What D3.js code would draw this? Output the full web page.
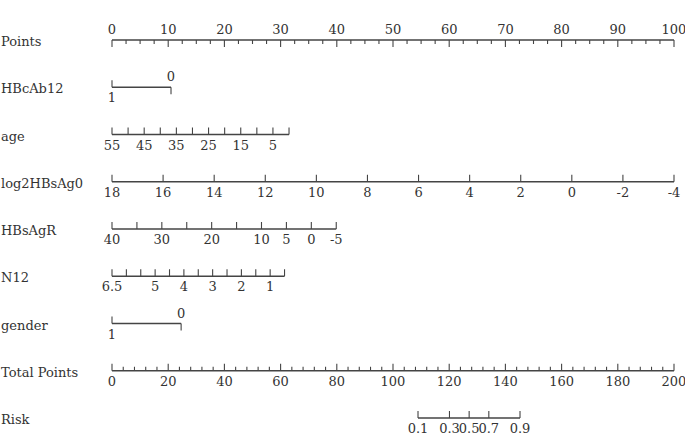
<!DOCTYPE html>
<html>
<head>
<meta charset="utf-8">
<script src="https://cdn.jsdelivr.net/npm/d3@7"></script>
<style>
  body { margin: 0; background: #fff; }
  text { font-family: "DejaVu Serif", "Liberation Serif", serif; font-size: 13px; fill: #333; }
</style>
</head>
<body>
<div id="plot"></div>
<script>
// rows of the nomogram, top to bottom
var rows = ["Points", "HBcAb12", "age", "log2HBsAg0", "HBsAgR", "N12", "gender", "Total Points", "Risk"];

// points scale 0..100, minor ticks every 2.5
var pointTicks = d3.range(0, 100.01, 2.5);
var pointLabels = [0, 10, 20, 30, 40, 50, 60, 70, 80, 90, 100];

// total points 0..200, minor ticks every 4
var totalTicks = d3.range(0, 200.01, 4);
var totalLabels = [0, 20, 40, 60, 80, 100, 120, 140, 160, 180, 200];

// predictors: tick values, which labels are printed, value range and points range
var hbcTicks = [1, 0];
var hbcValues = [1, 0], hbcPoints = [0, 10.5];

var ageTicks = [55, 50, 45, 40, 35, 30, 25, 20, 15, 10, 5, 0];
var ageLabels = [55, 45, 35, 25, 15, 5];
var ageValues = [55, 0], agePoints = [0, 31.5];

var hbsTicks = [18, 16, 14, 12, 10, 8, 6, 4, 2, 0, -2, -4];
var hbsValues = [18, -4], hbsPoints = [0, 100];

var hbsrTicks = [40, 35, 30, 25, 20, 15, 10, 5, 0, -5];
var hbsrLabels = [40, 30, 20, 10, 5, 0, -5];
var hbsrValues = [40, -5], hbsrPoints = [0, 39.9];

var n12Ticks = [6.5, 6, 5.5, 5, 4.5, 4, 3.5, 3, 2.5, 2, 1.5, 1, 0.5];
var n12Labels = [6.5, 5, 4, 3, 2, 1];
var n12Values = [6.5, 0.5], n12Points = [0, 30.7];

var genderTicks = [1, 0];
var genderValues = [1, 0], genderPoints = [0, 12.3];

// risk ticks and where they sit on the total points axis
var riskTicks = [0.1, 0.3, 0.5, 0.7, 0.9];
var riskTotal = [108.9, 120.1, 127.1, 134.1, 145.2];

var W = 685, H = 435;
var svg = d3.select("#plot").append("svg")
    .attr("width", W).attr("height", H);

var xpts = d3.scaleLinear().domain([0, 100]).range([112, 674]);
var xtot = d3.scaleLinear().domain([0, 200]).range([112, 674]);
var y = d3.scalePoint().domain(rows).range([40, 418]);

var ink = "#444";

// row titles
svg.selectAll(".rowlab")
    .data(rows)
    .join("text")
    .attr("class", "rowlab")
    .attr("x", 1)
    .attr("y", function(d) { return y(d) + 6; })
    .text(function(d) { return d; });

function hline(g, x0, x1) {
    g.append("line")
        .attr("x1", x0).attr("x2", x1)
        .attr("stroke", ink).attr("stroke-width", 1.3);
}

// Points axis: ticks down, labels above
var gp = svg.append("g").attr("transform", `translate(0,${y("Points")})`);
hline(gp, xpts(0), xpts(100));
gp.selectAll(".tk").data(pointTicks).join("line")
    .attr("x1", function(d) { return xpts(d); })
    .attr("x2", function(d) { return xpts(d); })
    .attr("y1", 0)
    .attr("y2", function(d) { return d % 10 == 0 ? 7 : 4; })
    .attr("stroke", ink).attr("stroke-width", 1.1);
gp.selectAll(".lb").data(pointLabels).join("text")
    .attr("x", function(d) { return xpts(d); })
    .attr("y", -6)
    .attr("text-anchor", "middle")
    .text(function(d) { return d; });

// continuous predictors: ticks up, labels below
function predictor(name, ticks, labels, values, points) {
    var s = d3.scaleLinear().domain(values).range(points);
    var g = svg.append("g").attr("transform", `translate(0,${y(name)})`);
    hline(g, xpts(s(values[0])), xpts(s(values[1])));
    g.selectAll(".tk").data(ticks).join("line")
        .attr("x1", function(d) { return xpts(s(d)); })
        .attr("x2", function(d) { return xpts(s(d)); })
        .attr("y1", 0).attr("y2", -7)
        .attr("stroke", ink).attr("stroke-width", 1.1);
    g.selectAll(".lb").data(labels).join("text")
        .attr("x", function(d) { return xpts(s(d)); })
        .attr("y", 15)
        .attr("text-anchor", "middle")
        .text(function(d) { return d; });
}

// binary predictors: first level below (tick up), second above (tick down)
function binary(name, ticks, values, points) {
    var s = d3.scaleLinear().domain(values).range(points);
    var g = svg.append("g").attr("transform", `translate(0,${y(name)})`);
    hline(g, xpts(s(values[0])), xpts(s(values[1])));
    g.selectAll(".tk").data(ticks).join("line")
        .attr("x1", function(d) { return xpts(s(d)); })
        .attr("x2", function(d) { return xpts(s(d)); })
        .attr("y1", 0)
        .attr("y2", function(d, i) { return i == 0 ? -7 : 7; })
        .attr("stroke", ink).attr("stroke-width", 1.1);
    g.selectAll(".lb").data(ticks).join("text")
        .attr("x", function(d) { return xpts(s(d)); })
        .attr("y", function(d, i) { return i == 0 ? 15 : -6; })
        .attr("text-anchor", "middle")
        .text(function(d) { return d; });
}

binary("HBcAb12", hbcTicks, hbcValues, hbcPoints);
predictor("age", ageTicks, ageLabels, ageValues, agePoints);
predictor("log2HBsAg0", hbsTicks, hbsTicks, hbsValues, hbsPoints);
predictor("HBsAgR", hbsrTicks, hbsrLabels, hbsrValues, hbsrPoints);
predictor("N12", n12Ticks, n12Labels, n12Values, n12Points);
binary("gender", genderTicks, genderValues, genderPoints);

// Total Points axis: ticks up, labels below
var gt = svg.append("g").attr("transform", `translate(0,${y("Total Points")})`);
hline(gt, xtot(0), xtot(200));
gt.selectAll(".tk").data(totalTicks).join("line")
    .attr("x1", function(d) { return xtot(d); })
    .attr("x2", function(d) { return xtot(d); })
    .attr("y1", 0)
    .attr("y2", function(d) { return d % 20 == 0 ? -7 : -4; })
    .attr("stroke", ink).attr("stroke-width", 1.1);
gt.selectAll(".lb").data(totalLabels).join("text")
    .attr("x", function(d) { return xtot(d); })
    .attr("y", 15)
    .attr("text-anchor", "middle")
    .text(function(d) { return d; });

// Risk axis
var gr = svg.append("g").attr("transform", `translate(0,${y("Risk")})`);
hline(gr, xtot(riskTotal[0]), xtot(riskTotal[riskTotal.length - 1]));
gr.selectAll(".tk").data(riskTotal).join("line")
    .attr("x1", function(d) { return xtot(d); })
    .attr("x2", function(d) { return xtot(d); })
    .attr("y1", 0).attr("y2", -7)
    .attr("stroke", ink).attr("stroke-width", 1.1);
gr.selectAll(".lb").data(riskTicks).join("text")
    .attr("x", function(d, i) { return xtot(riskTotal[i]); })
    .attr("y", 15)
    .attr("text-anchor", "middle")
    .text(function(d) { return d; });
</script>
</body>
</html>
